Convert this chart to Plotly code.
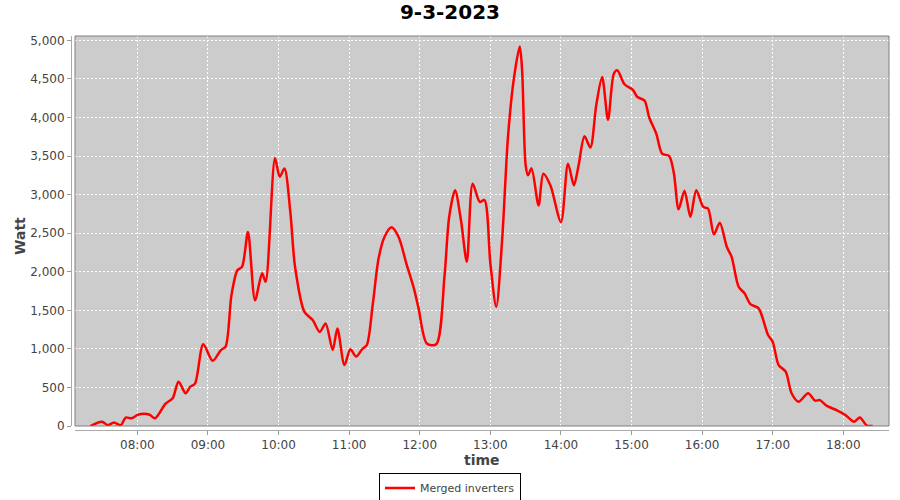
import plotly.graph_objects as go

DAY = "2023-03-09"

times = [
    "07:20", "07:30", "07:35", "07:40", "07:46", "07:50", "07:55", "08:01",
    "08:10", "08:15", "08:24", "08:30", "08:35", "08:41", "08:45", "08:49",
    "08:56", "09:04", "09:11", "09:15", "09:20", "09:25", "09:29", "09:34",
    "09:40", "09:46", "09:49", "09:57", "10:01", "10:05", "10:10", "10:14",
    "10:22", "10:29", "10:35", "10:40", "10:46", "10:50", "10:56", "11:01",
    "11:06", "11:11", "11:15", "11:20", "11:25", "11:30", "11:36", "11:42",
    "11:49", "11:55", "11:59", "12:06", "12:14", "12:21", "12:25", "12:30",
    "12:35", "12:40", "12:45", "12:51", "12:55", "13:00", "13:05", "13:10",
    "13:15", "13:20", "13:25", "13:27", "13:30", "13:32", "13:35", "13:41",
    "13:45", "13:51", "14:00", "14:06", "14:11", "14:15", "14:20", "14:25",
    "14:30", "14:35", "14:40", "14:45", "14:48", "14:54", "15:01", "15:05",
    "15:11", "15:15", "15:21", "15:26", "15:32", "15:36", "15:40", "15:45",
    "15:50", "15:55", "16:01", "16:05", "16:10", "16:15", "16:21", "16:25",
    "16:31", "16:36", "16:41", "16:48", "16:56", "17:00", "17:05", "17:11",
    "17:16", "17:22", "17:30", "17:36", "17:40", "17:46", "17:55", "18:02",
    "18:09", "18:14", "18:20", "18:25",
]

watts = [
    0, 55, 10, 45, 10, 110, 100, 150,
    150, 100, 290, 360, 575, 425, 510, 550,
    1060, 845, 985, 1030, 1700, 2020, 2065, 2515,
    1630, 1980, 1870, 3470, 3230, 3340, 2775, 2065,
    1480, 1375, 1220, 1330, 985, 1265, 790, 995,
    900, 995, 1050, 1570, 2170, 2450, 2575, 2450,
    2085, 1785, 1525, 1070, 1060, 1935, 2710, 3055,
    2670, 2130, 3140, 2905, 2930, 2110, 1545, 2410,
    3750, 4505, 4920, 4610, 3380, 3250, 3340, 2860,
    3270, 3120, 2645, 3400, 3120, 3380, 3755, 3610,
    4160, 4525, 3970, 4570, 4610, 4430, 4360, 4265,
    4220, 4000, 3790, 3530, 3500, 3275, 2810, 3050,
    2710, 3055, 2840, 2820, 2485, 2635, 2320, 2195,
    1805, 1720, 1580, 1525, 1180, 1090, 790, 705,
    425, 315, 425, 330, 335, 260, 200, 140,
    55, 110, 5, 0,
]

x = [f"{DAY} {t}" for t in times]

fig = go.Figure()

fig.add_trace(
    go.Scatter(
        x=x,
        y=watts,
        name="Merged inverters",
        mode="lines",
        line=dict(color="#ff0000", width=2.5, shape="spline", smoothing=0.8),
    )
)

# plot area outline
fig.add_shape(
    type="rect",
    xref="x domain", yref="y domain",
    x0=0, x1=1, y0=0, y1=1,
    line=dict(color="#808080", width=1),
    layer="above",
)

# axis titles
fig.add_annotation(
    text="<b>time</b>",
    xref="paper", yref="paper",
    x=(482 - 71) / 818, y=(430 - 460) / 394,
    xanchor="center", yanchor="middle",
    showarrow=False,
    font=dict(size=14, color="#444444"),
)
fig.add_annotation(
    text="<b>Watt</b>",
    xref="paper", yref="paper",
    x=(20 - 71) / 818, y=(430 - 236) / 394,
    xanchor="center", yanchor="middle",
    textangle=-90,
    showarrow=False,
    font=dict(size=14, color="#444444"),
)

fig.update_layout(
    width=900,
    height=500,
    title=dict(
        text="<b>9-3-2023</b>",
        xref="container",
        yref="container",
        x=0.5,
        xanchor="center",
        y=1,
        yanchor="top",
        pad=dict(t=5),
        font=dict(family="DejaVu Sans", size=20, color="#000000"),
    ),
    font=dict(family="DejaVu Sans", size=12, color="#444444"),
    paper_bgcolor="white",
    plot_bgcolor="#cccccc",
    margin=dict(l=71, r=11, t=36, b=70, autoexpand=False),
    showlegend=True,
    legend=dict(
        orientation="h",
        xref="container",
        yref="container",
        x=0.5,
        xanchor="center",
        y=(500 - 488) / 500,
        yanchor="middle",
        bordercolor="#000000",
        borderwidth=1,
        font=dict(family="DejaVu Sans", size=11, color="#444444"),
        itemwidth=30,
    ),
)

fig.update_xaxes(
    type="date",
    domain=[4 / 818, 1],
    anchor="free",
    position=0,
    automargin=False,
    range=[f"{DAY} 07:07", f"{DAY} 18:38:48"],
    dtick=3600000,
    tick0=f"{DAY} 08:00",
    tickformat="%H:%M",
    ticks="outside",
    ticklen=4,
    tickcolor="#999999",
    showline=True,
    linecolor="#aaaaaa",
    linewidth=1,
    showgrid=True,
    gridcolor="white",
    griddash="2px,2px",
    gridwidth=1,
    zeroline=False,
    tickfont=dict(size=12, color="#444444"),
)

fig.update_yaxes(
    domain=[4 / 394, 1],
    anchor="free",
    position=0,
    automargin=False,
    range=[0, 5056],
    dtick=500,
    tickformat=",d",
    ticks="outside",
    ticklen=4,
    tickcolor="#999999",
    showline=True,
    linecolor="#aaaaaa",
    linewidth=1,
    showgrid=True,
    gridcolor="white",
    griddash="2px,2px",
    gridwidth=1,
    zeroline=False,
    tickfont=dict(size=12, color="#444444"),
)

# the page's default body margin would shift the figure by 8px
fig.write_html(
    "out.html",
    config={"displayModeBar": False},
    post_script="document.body.style.margin = '0';",
)
